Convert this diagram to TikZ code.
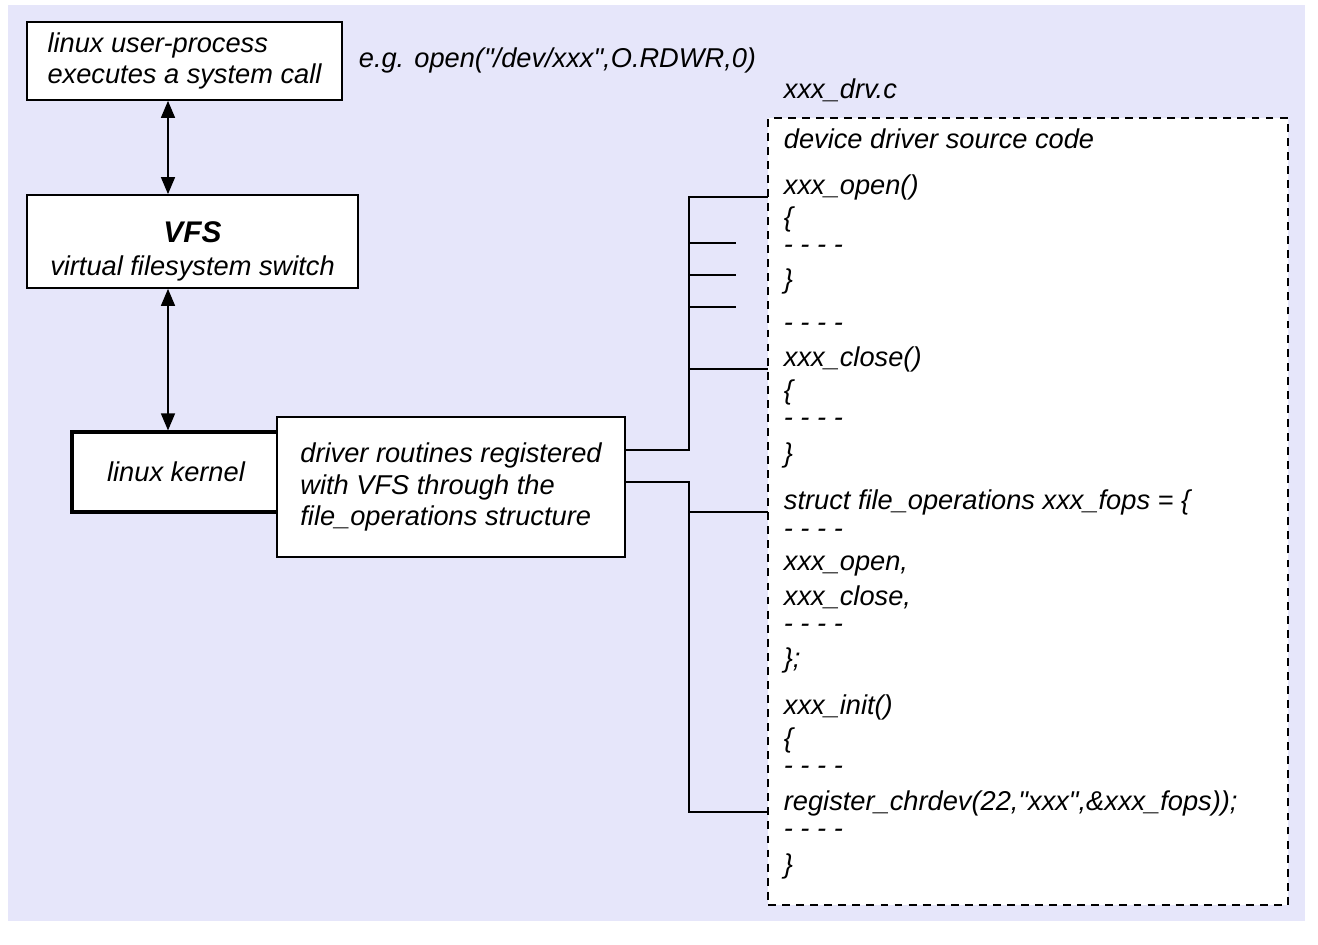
\documentclass[tikz,border=0pt]{standalone}
\usepackage{fontspec}
\setmainfont{Liberation Sans}[Ligatures=TeXOff]
\usetikzlibrary{arrows.meta}
\definecolor{bgcol}{HTML}{E6E6FA}

\begin{document}
\begin{tikzpicture}[x=0.02cm,y=-0.02cm,line width=1pt,
   every node/.style={font=\fontsize{15.5}{18}\selectfont\itshape},
   box/.style={draw,fill=white,align=left,inner sep=0pt},
   kbox/.style={box,line width=1.8pt},
   srcbox/.style={draw,fill=white,line width=1.2pt,dash pattern=on 4.5pt off 3.5pt,inner sep=0pt},
   code/.style={anchor=west,inner xsep=0.3cm,inner ysep=0pt},
   lbl/.style={anchor=west,inner sep=0pt},
   arr/.style={line width=0.8pt,{Triangle[length=0.34cm,width=0.28cm]}-{Triangle[length=0.34cm,width=0.28cm]}}]
   \useasboundingbox (0,0) rectangle (1318,945);
   \fill[bgcol] (8,5) rectangle (1305,921);
   % left column
   \node (user)   at (184.5,61)  [box,minimum width=6.3cm,minimum height=1.56cm] {linux user-process\\executes a system call};
   \node (vfs)    at (192.5,241.5) [box,minimum width=6.62cm,minimum height=1.86cm,
      label={[align=center,yshift=-0.2cm]center:{{\fontsize{17}{18}\selectfont\textbf{VFS}}\\[1pt]virtual filesystem switch}}] {};
   \node (kernel) at (176,472)   [kbox,minimum width=4.16cm,minimum height=1.6cm] {linux kernel};
   \node (drv)    at (451,487)   [box,minimum width=6.96cm,minimum height=2.8cm] {driver routines registered\\with VFS through the\\file\_operations structure};
   \node (call)   at (358,60)    [lbl] {e.g. open("/dev/xxx",O.RDWR,0)};
   \coordinate (ax) at (168,0);
   \draw[arr] (user.south -| ax) to (vfs.north -| ax);
   \draw[arr] (vfs.south -| ax) to (kernel.north -| ax);
   % driver source
   \node (file) at (783,90) [lbl] {xxx\_drv.c};
   \node (src)  at (1028,511.5) [srcbox,minimum width=10.4cm,minimum height=15.74cm] {};
   \node (head)  at (768,139) [code] {device driver source code};
   \node (open)  at (768,187) [code] {xxx\_open()};
   \node (ob1)   at (768,219) [code] {\{};
   \node (od1)   at (768,249) [code] {- - - -};
   \node (ob2)   at (768,281) [code] {\}};
   \node (od2)   at (768,327) [code] {- - - -};
   \node (close) at (768,359) [code] {xxx\_close()};
   \node (cb1)   at (768,392) [code] {\{};
   \node (cd1)   at (768,422) [code] {- - - -};
   \node (cb2)   at (768,455) [code] {\}};
   \node (fops)  at (768,502) [code] {struct file\_operations xxx\_fops = \{};
   \node (fd1)   at (768,533) [code] {- - - -};
   \node (fo)    at (768,566) [code] {xxx\_open,};
   \node (fc)    at (768,597) [code] {xxx\_close,};
   \node (fd2)   at (768,628) [code] {- - - -};
   \node (fb)    at (768,660) [code] {\};};
   \node (init)  at (768,707) [code] {xxx\_init()};
   \node (ib1)   at (768,740) [code] {\{};
   \node (id1)   at (768,770) [code] {- - - -};
   \node (reg)   at (768,803) [code] {register\_chrdev(22,"xxx",\&xxx\_fops));};
   \node (id2)   at (768,833) [code] {- - - -};
   \node (ib2)   at (768,866) [code] {\}};
   % connectors
   \coordinate (jA) at (689,450);
   \coordinate (jB) at (689,482);
   \coordinate (s1) at (736,243);
   \coordinate (s2) at (736,275);
   \coordinate (s3) at (736,307);
   \draw (drv.east |- jA) -- (jA) |- ([yshift=-0.2cm]open.west);
   \draw (jA |- s1) -- (s1);
   \draw (jA |- s2) -- (s2);
   \draw (jA |- s3) -- (s3);
   \draw ([yshift=-0.2cm]close.west -| jA) -- ([yshift=-0.2cm]close.west);
   \draw (drv.east |- jB) -- (jB) |- ([yshift=-0.18cm]reg.west);
   \draw ([yshift=-0.2cm]fops.west -| jB) -- ([yshift=-0.2cm]fops.west);
  \end{tikzpicture}
\end{document}
